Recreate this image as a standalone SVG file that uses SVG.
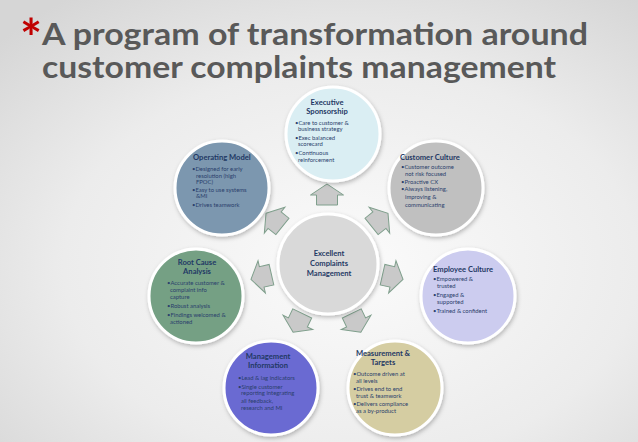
<svg xmlns="http://www.w3.org/2000/svg" xmlns:xlink="http://www.w3.org/1999/xlink" width="638" height="442" viewBox="0 0 638 442">
<defs>
<radialGradient id="bg" cx="0.55" cy="0.6" r="0.75">
<stop offset="0" stop-color="#fbfbfb"/>
<stop offset="0.6" stop-color="#ececec"/>
<stop offset="1" stop-color="#d6d6d6"/>
</radialGradient>
<filter id="sh" x="-20%" y="-20%" width="140%" height="140%">
<feDropShadow dx="1" dy="2" stdDeviation="2" flood-color="#000" flood-opacity="0.25"/>
</filter>
<polygon id="arr" points="0,-11 16.5,0 10.5,0 10.5,10 -10.5,10 -10.5,0 -16.5,0"/>
</defs>
<style>
.c{stroke:#fff;stroke-width:3;filter:url(#sh)}
.t{font-family:Lato,"Liberation Sans",sans-serif;font-weight:bold;font-size:7.6px;fill:#1f3864}
.tm{text-anchor:middle}
.b{font-family:Lato,"Liberation Sans",sans-serif;font-size:5.9px;fill:#2b3f6c}
.a{fill:#c9c9c9;stroke:#7f9f8c;stroke-width:1}
.title{font-family:Lato,"Liberation Sans",sans-serif;font-weight:bold;font-size:30px;fill:#595959}
</style>
<rect width="638" height="442" fill="url(#bg)"/>
<g id="title">
<text x="20" y="57" font-family="Lato,'Liberation Sans',sans-serif" font-weight="bold" font-size="52" fill="#c00000">*</text>
<text class="title" x="42" y="45" textLength="546" lengthAdjust="spacingAndGlyphs">A program of transformation around</text>
<text class="title" x="42" y="78" textLength="514" lengthAdjust="spacingAndGlyphs">customer complaints management</text>
</g>
<g id="connectors">
<use href="#arr" class="a" transform="translate(327,195) rotate(0)"/>
<use href="#arr" class="a" transform="translate(379.4,220.2) rotate(51.43)"/>
<use href="#arr" class="a" transform="translate(392.3,276.9) rotate(102.86)"/>
<use href="#arr" class="a" transform="translate(356.1,322.4) rotate(154.29)"/>
<use href="#arr" class="a" transform="translate(297.9,322.4) rotate(205.71)"/>
<use href="#arr" class="a" transform="translate(261.7,276.9) rotate(257.14)"/>
<use href="#arr" class="a" transform="translate(274.6,220.2) rotate(308.57)"/>
</g>
<g id="center">
<circle class="c" cx="328" cy="264" r="50" fill="#d9d9d9"/>
<text class="t tm" x="329" y="256">Excellent</text>
<text class="t tm" x="329" y="266">Complaints</text>
<text class="t tm" x="329" y="276">Management</text>
</g>
<g id="executive">
<circle class="c" cx="333" cy="134" r="47" fill="#daeef3"/>
<text class="t tm" x="327" y="105">Executive</text>
<text class="t tm" x="327" y="114">Sponsorship</text>
<text class="b" x="295" y="125">•Care to customer &amp;</text>
<text class="b" x="298" y="131">business strategy</text>
<text class="b" x="295" y="140">•Exec balanced</text>
<text class="b" x="298" y="146">scorecard</text>
<text class="b" x="295" y="155">•Continuous</text>
<text class="b" x="298" y="162">reinforcement</text>
</g>
<g id="operating">
<circle class="c" cx="222" cy="188" r="47" fill="#7b97af"/>
<text class="t" x="193" y="160">Operating Model</text>
<text class="b" x="192" y="171">•Designed for early</text>
<text class="b" x="196" y="178">resolution (high</text>
<text class="b" x="196" y="184">FPOC)</text>
<text class="b" x="192" y="192">•Easy to use systems</text>
<text class="b" x="196" y="198">&amp;MI</text>
<text class="b" x="192" y="207">•Drives teamwork</text>
</g>
<g id="customer">
<circle class="c" cx="436" cy="188" r="47" fill="#c0c0c0"/>
<text class="t" x="400" y="160">Customer Culture</text>
<text class="b" x="401" y="169">•Customer outcome</text>
<text class="b" x="405" y="176">not risk focused</text>
<text class="b" x="401" y="184">•Proactive CX</text>
<text class="b" x="401" y="191">•Always listening,</text>
<text class="b" x="405" y="199">improving &amp;</text>
<text class="b" x="405" y="207">communicating</text>
</g>
<g id="rootcause">
<circle class="c" cx="196" cy="296" r="47" fill="#74a084"/>
<text class="t tm" x="197" y="265">Root Cause</text>
<text class="t tm" x="197" y="274">Analysis</text>
<text class="b" x="167" y="285">•Accurate customer &amp;</text>
<text class="b" x="170" y="292">complaint info</text>
<text class="b" x="170" y="299">capture</text>
<text class="b" x="167" y="308">•Robust analysis</text>
<text class="b" x="167" y="317">•Findings welcomed &amp;</text>
<text class="b" x="170" y="324">actioned</text>
</g>
<g id="employee">
<circle class="c" cx="468" cy="296" r="47" fill="#ccccef"/>
<text class="t" x="433" y="272">Employee Culture</text>
<text class="b" x="433" y="281">•Empowered &amp;</text>
<text class="b" x="437" y="288">trusted</text>
<text class="b" x="433" y="297">•Engaged &amp;</text>
<text class="b" x="437" y="304">supported</text>
<text class="b" x="433" y="313">•Trained &amp; confident</text>
</g>
<g id="management">
<circle class="c" cx="271" cy="388" r="47" fill="#6b6bd2"/>
<text class="t tm" x="268" y="359">Management</text>
<text class="t tm" x="268" y="368">Information</text>
<text class="b" x="238" y="380">•Lead &amp; lag indicators</text>
<text class="b" x="238" y="389">•Single customer</text>
<text class="b" x="241" y="395">reporting integrating</text>
<text class="b" x="241" y="403">all feedback,</text>
<text class="b" x="241" y="410">research and MI</text>
</g>
<g id="measurement">
<circle class="c" cx="395" cy="388" r="47" fill="#d5cda2"/>
<text class="t tm" x="383" y="356">Measurement &amp;</text>
<text class="t tm" x="383" y="365">Targets</text>
<text class="b" x="353" y="376">•Outcome driven at</text>
<text class="b" x="356" y="383">all levels</text>
<text class="b" x="353" y="391">•Drives end to end</text>
<text class="b" x="356" y="398">trust &amp; teamwork</text>
<text class="b" x="353" y="406">•Delivers compliance</text>
<text class="b" x="356" y="413">as a by-product</text>
</g>
</svg>
